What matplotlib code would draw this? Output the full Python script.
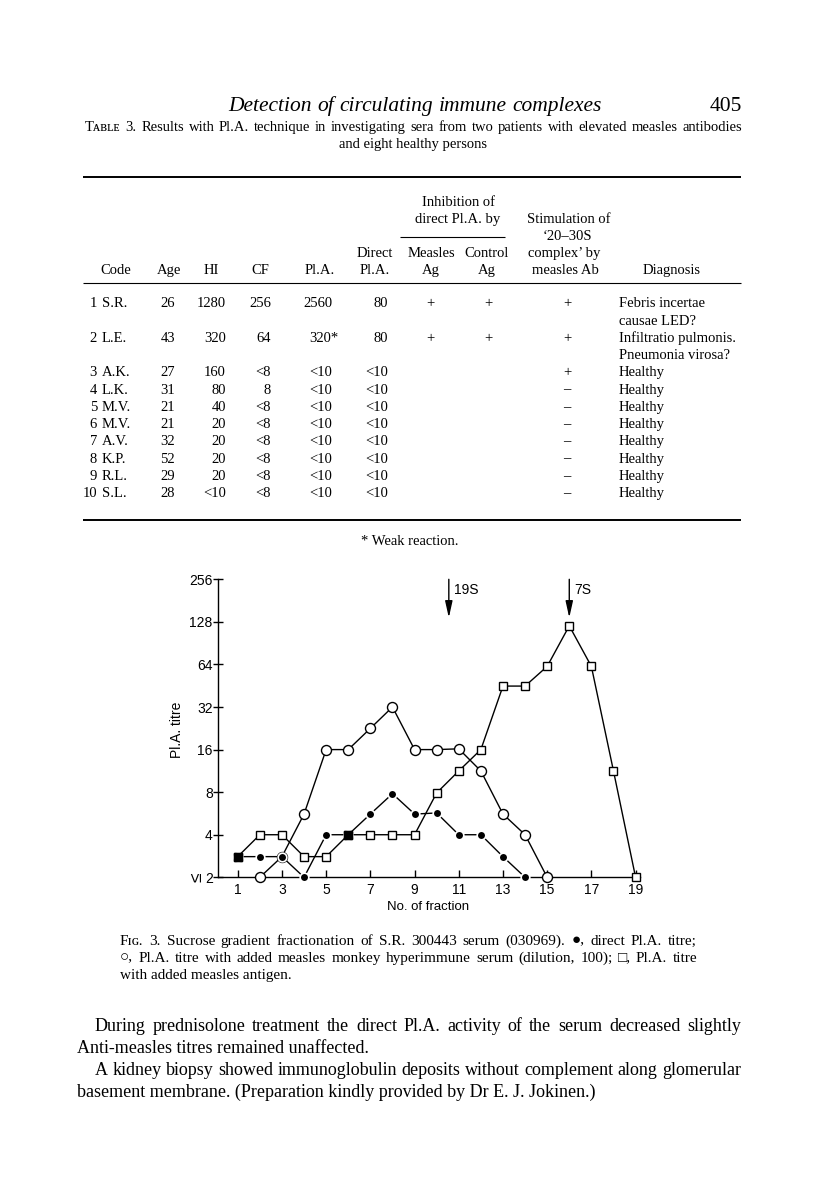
"""
Página 405 — tabla 3 y figura 3 (fraccionamiento en gradiente de sacarosa).
Se reproduce la página completa: texto en serif, gráfico en sans.
"""
import matplotlib
matplotlib.use("Agg")
import matplotlib.pyplot as plt

SERIF = ["Liberation Serif", "DejaVu Serif"]
SANS = ["Liberation Sans", "DejaVu Sans"]

# ── datos del gráfico (título PlA, escala log2) ─────────────────────────
frac_direct = list(range(1, 15))
direct = [2.8, 2.8, 2.8, 2, 4, 4, 5.6, 7.8, 5.6, 5.7, 4, 4, 2.8, 2]
frac_serum = list(range(2, 16))
serum = [2, 2.8, 5.6, 16, 16, 22.6, 32, 16, 16, 16.2, 11.3, 5.6, 4, 2]
frac_antigen = list(range(1, 20))
antigen = [2.8, 4, 4, 2.8, 2.8, 4, 4, 4, 4, 7.9, 11.3, 16, 45, 45, 62, 120, 62, 11.3, 2]
y_ticks = [2, 4, 8, 16, 32, 64, 128, 256]
x_ticks = list(range(1, 20, 2))
peaks = [("19S", 10.55), ("7S", 16.0)]

# ── datos de la tabla ───────────────────────────────────────────────────
num = ["1", "2", "3", "4", "5", "6", "7", "8", "9", "10"]
code = ["S.R.", "L.E.", "A.K.", "L.K.", "M.V.", "M.V.", "A.V.", "K.P.", "R.L.", "S.L."]
age = ["26", "43", "27", "31", "21", "21", "32", "52", "29", "28"]
hi = ["1280", "320", "160", "80", "40", "20", "20", "20", "20", "<10"]
cf = ["256", "64", "<8", "8", "<8", "<8", "<8", "<8", "<8", "<8"]
pla = ["2560", "320*", "<10", "<10", "<10", "<10", "<10", "<10", "<10", "<10"]
direct_pla = ["80", "80"] + ["<10"] * 8
inh_measles = ["+", "+"] + [""] * 8
inh_control = ["+", "+"] + [""] * 8
stim = ["+", "+", "+"] + ["\u2013"] * 7
diagnosis = [["Febris incertae", "causae LED?"],
             ["Infiltratio pulmonis.", "Pneumonia virosa?"]] + [["Healthy"]] * 8

fig = plt.figure(figsize=(8.16, 11.98), dpi=100)
page = fig.add_axes([0, 0, 1, 1])
page.set_xlim(0, 816); page.set_ylim(1198, 0); page.axis("off")
R = fig.canvas.get_renderer()


def put(x, y, s, size=10.5, ha="left", **kw):
    # y = centro visual de la línea; se pasa a línea base para que todas
    # las palabras de una línea queden alineadas
    kw.setdefault("family", SERIF)
    return page.text(x, y + 0.3 * size * 100 / 72, s, fontsize=size, ha=ha,
                     va="baseline", **kw)


def justify(x0, x1, y, line, size, **kw):
    """Reparte las palabras para llenar exactamente x0..x1 (texto justificado)."""
    words = line.split()
    arts = [put(0, y, w, size, **kw) for w in words]
    widths = [a.get_window_extent(R).width for a in arts]
    gap = (x1 - x0 - sum(widths)) / max(len(words) - 1, 1)
    x = x0
    for a, w in zip(arts, widths):
        a.set_x(x)
        x += w + gap


def rule(y, x0=83, x1=741, lw=1.4):
    page.plot([x0, x1], [y, y], color="k", lw=lw, solid_capstyle="butt")


# ── cabecera y pie de tabla ─────────────────────────────────────────────
justify(228, 602, 105, "Detection of circulating immune complexes", 15.5, style="italic")
put(742, 105, "405", 15.5, ha="right")
justify(85, 742, 127, "T\u1d00\u0299\u029f\u1d07 3. Results with Pl.A. technique in investigating "
        "sera from two patients with elevated measles antibodies", 10.5)
put(413, 144, "and eight healthy persons", 10.5, ha="center")

rule(177)
put(458, 202, "Inhibition of", ha="center")
put(458, 219, "direct Pl.A. by", ha="center")
rule(237, 400, 505, lw=0.8)
put(569, 219, "Stimulation of", ha="center")
put(567, 236, "\u201820\u201330S", ha="center")
put(564, 253, "complex\u2019 by", ha="center")
put(565, 270, "measles Ab", ha="center")
put(375, 253, "Direct", ha="center")
for x, s in [(116, "Code"), (169, "Age"), (211, "HI"), (260, "CF"), (320, "Pl.A."),
             (375, "Pl.A."), (431, "Ag"), (487, "Ag"), (672, "Diagnosis")]:
    put(x, 270, s, ha="center")
put(431, 253, "Measles", ha="center")
put(487, 253, "Control", ha="center")
rule(283, lw=0.8)

y = 303
for i in range(len(num)):
    put(97, y, num[i], ha="right")
    put(102, y, code[i])
    put(175, y, age[i], ha="right")
    put(226, y, hi[i], ha="right")
    put(271, y, cf[i], ha="right")
    put(332 + (6 if pla[i].endswith("*") else 0), y, pla[i], ha="right")
    put(388, y, direct_pla[i], ha="right")
    put(430, y, inh_measles[i], ha="center")
    put(488, y, inh_control[i], ha="center")
    put(567, y, stim[i], ha="center")
    for line in diagnosis[i]:
        put(619, y, line)
        y += 17.25
rule(520)
put(410, 541, "* Weak reaction.", ha="center")

# ── gráfico ─────────────────────────────────────────────────────────────
ax = fig.add_axes([218.3 / 816, 1 - 877.3 / 1198, (640 - 218.3) / 816, (877.3 - 579.3) / 1198])
ax.set_yscale("log", base=2)
ax.set_ylim(2, 256)
ax.set_xlim(0.12, 19.2)
for s in ("top", "right"):
    ax.spines[s].set_visible(False)
for s in ("left", "bottom"):
    ax.spines[s].set_linewidth(1.0)
ax.set_yticks(y_ticks)
ax.set_yticklabels([str(v) for v in y_ticks], family=SANS, fontsize=10)
ax.yaxis.set_minor_locator(matplotlib.ticker.NullLocator())
ax.set_xticks(x_ticks)
ax.set_xticklabels([str(v) for v in x_ticks], family=SANS, fontsize=10)
ax.tick_params(axis="y", direction="inout", length=7, width=1, pad=0.5)
ax.tick_params(axis="x", direction="in", length=5, width=1, pad=4)
ax.patch.set_alpha(0)

line_kw = dict(color="k", lw=1.0, zorder=2, clip_on=False)
ax.plot(frac_antigen, antigen, **line_kw)
ax.plot(frac_serum, serum, **line_kw)
ax.plot(frac_direct, direct, **line_kw)
ax.plot(frac_antigen, antigen, "s", ms=6.3, mfc="white", mec="k", mew=1, zorder=3, clip_on=False)
ax.plot(frac_serum, serum, "o", ms=7.2, mfc="white", mec="k", mew=1, zorder=3, clip_on=False)
ax.plot(frac_direct, direct, "o", ms=6.2, mfc="k", mec="white", mew=1.2, zorder=4, clip_on=False)
# donde coinciden ● y □ el original imprime un cuadrado negro
both = [(f, v) for f, v in zip(frac_direct, direct) if v == antigen[frac_antigen.index(f)]]
ax.plot([f for f, _ in both], [v for _, v in both], "s", ms=6.3, color="k", zorder=5, clip_on=False)

for name, xf in peaks:
    ax.annotate("", xy=(xf, 137), xytext=(xf, 256),
                arrowprops=dict(arrowstyle="-|>,head_length=0.9,head_width=0.2",
                                mutation_scale=11, lw=1.0, color="k", shrinkA=0, shrinkB=0))
    ax.text(xf + 0.22, 215, name, family=SANS, fontsize=10, va="center")

ax.text(-0.05, 2, "\u2264", transform=ax.get_yaxis_transform(), rotation=90,
        family=SANS, fontsize=12.5, ha="center", va="center")
page.text(177, 730, "Pl.A. titre", fontsize=10, family=SANS, rotation=90,
          ha="center", va="center")
page.text(428, 907, "No. of fraction", fontsize=9.5, family=SANS, ha="center", va="center")

# ── leyenda de la figura y texto del cuerpo ─────────────────────────────
justify(120, 697, 940, "F\u026a\u0262. 3. Sucrose gradient fractionation of S.R. 300443 serum "
        "(030969). \u25cf, direct Pl.A. titre;", 11)
justify(120, 697, 957, "\u25cb, Pl.A. titre with added measles monkey hyperimmune serum "
        "(dilution, 100); \u25a1, Pl.A. titre", 11)
put(120, 974, "with added measles antigen.", 11)

justify(95, 741, 1026, "During prednisolone treatment the direct Pl.A. activity of the serum "
        "decreased slightly", 13)
put(77, 1048, "Anti-measles titres remained unaffected.", 13)
justify(95, 741, 1070, "A kidney biopsy showed immunoglobulin deposits without complement "
        "along glomerular", 13)
put(77, 1092, "basement membrane. (Preparation kindly provided by Dr E. J. Jokinen.)", 13)

fig.savefig("out.png", dpi=100, facecolor="white")
